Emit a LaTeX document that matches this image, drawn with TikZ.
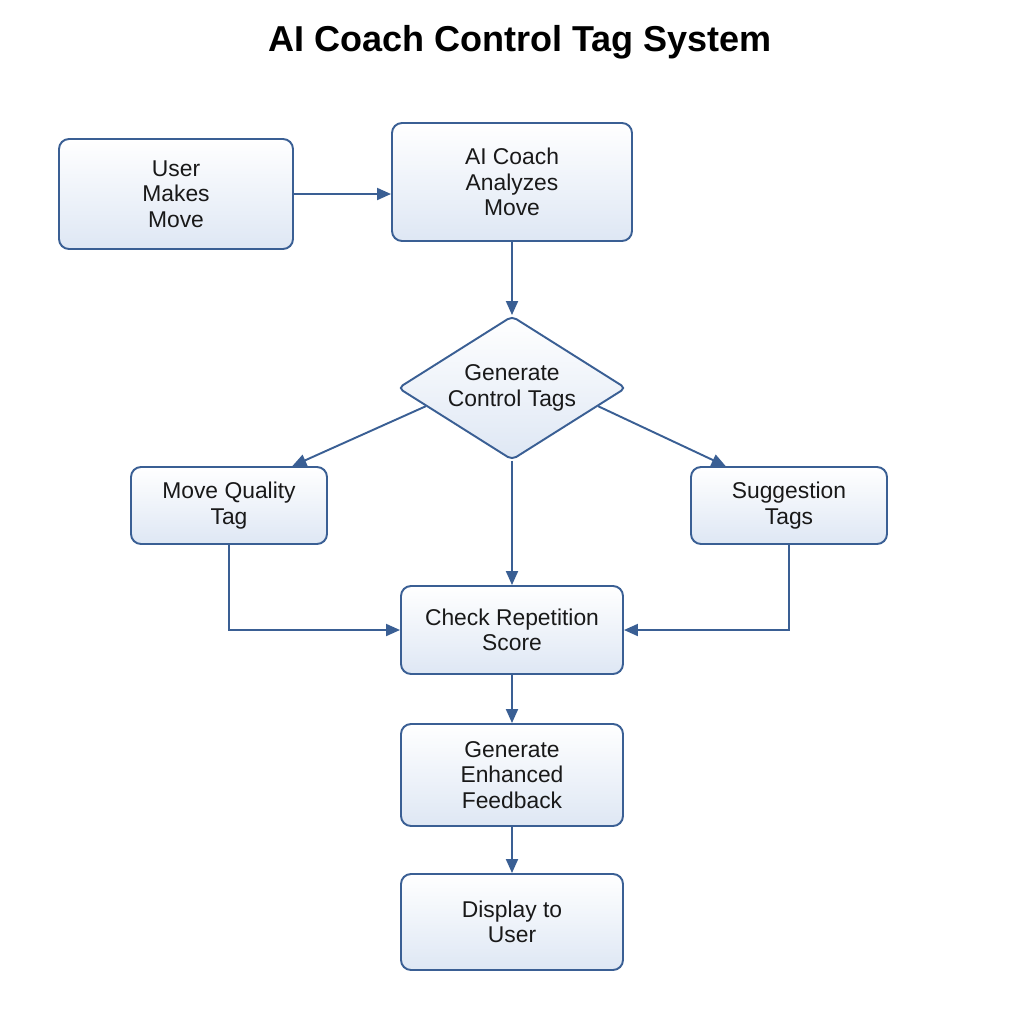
\documentclass[tikz,border=0pt]{standalone}
\usepackage{fontspec}
\setmainfont{Liberation Sans}
\usepackage{tikz}
\usetikzlibrary{shapes,arrows.meta,positioning,calc}
\usepackage{xcolor}
\definecolor{boxline}{RGB}{58,95,148}
\definecolor{boxfill}{RGB}{222,231,244}

\tikzset{
    box/.style={draw=boxline, line width=1.1pt, rounded corners=2mm, top color=white, bottom color=boxfill, align=center, font=\fontsize{13}{14.5}\selectfont, text=black!90},
    decision/.style={diamond, aspect=1.58, draw=boxline, line width=1.1pt, rounded corners=1mm, top color=white, bottom color=boxfill, align=center, inner sep=0pt, font=\fontsize{13}{14.5}\selectfont, text=black!90},
    flow/.style={draw=boxline, line width=1.1pt, -{Triangle[length=2.8mm,width=2.4mm]}}
}

\begin{document}
\begin{tikzpicture}
        \useasboundingbox (0,0) rectangle (20.48,-20.48);

        \node[font=\fontsize{20.5}{24}\selectfont\bfseries] (title) at (10.4,-0.84) {AI Coach Control Tag System};

        \node[box, minimum width=4.68cm, minimum height=2.2cm] (user) at (3.52,-3.88) {User\\Makes\\Move};
        \node[box, minimum width=4.8cm, minimum height=2.36cm] (coach) at (10.24,-3.64) {AI Coach\\Analyzes\\Move};
        \node[decision, minimum width=4.56cm, minimum height=2.88cm] (gen) at (10.24,-7.76) {Generate\\Control Tags};
        \node[box, minimum width=3.92cm, minimum height=1.54cm] (quality) at (4.58,-10.11) {Move Quality\\Tag};
        \node[box, minimum width=3.92cm, minimum height=1.54cm] (suggest) at (15.78,-10.11) {Suggestion\\Tags};
        \node[box, minimum width=4.44cm, minimum height=1.76cm] (check) at (10.24,-12.6) {Check Repetition\\Score};
        \node[box, minimum width=4.44cm, minimum height=2.04cm] (feedback) at (10.24,-15.5) {Generate\\Enhanced\\Feedback};
        \node[box, minimum width=4.44cm, minimum height=1.92cm] (display) at (10.24,-18.44) {Display to\\User};

        % connectors
        \draw[flow] (user.east) -- (user.east -| coach.west);
        \draw[flow] (coach.south) -- (gen.north);
        \draw[flow] ($(gen.west)!0.25!(gen.south)$) -- ($(quality.north)!0.64!(quality.north east)$);
        \draw[flow] ($(gen.east)!0.25!(gen.south)$) -- ($(suggest.north)!0.64!(suggest.north west)$);
        \draw[flow] (gen.south) -- (check.north);
        \draw[flow] (quality.south) |- (check.west);
        \draw[flow] (suggest.south) |- (check.east);
        \draw[flow] (check.south) -- (feedback.north);
        \draw[flow] (feedback.south) -- (display.north);
    \end{tikzpicture}
\end{document}
